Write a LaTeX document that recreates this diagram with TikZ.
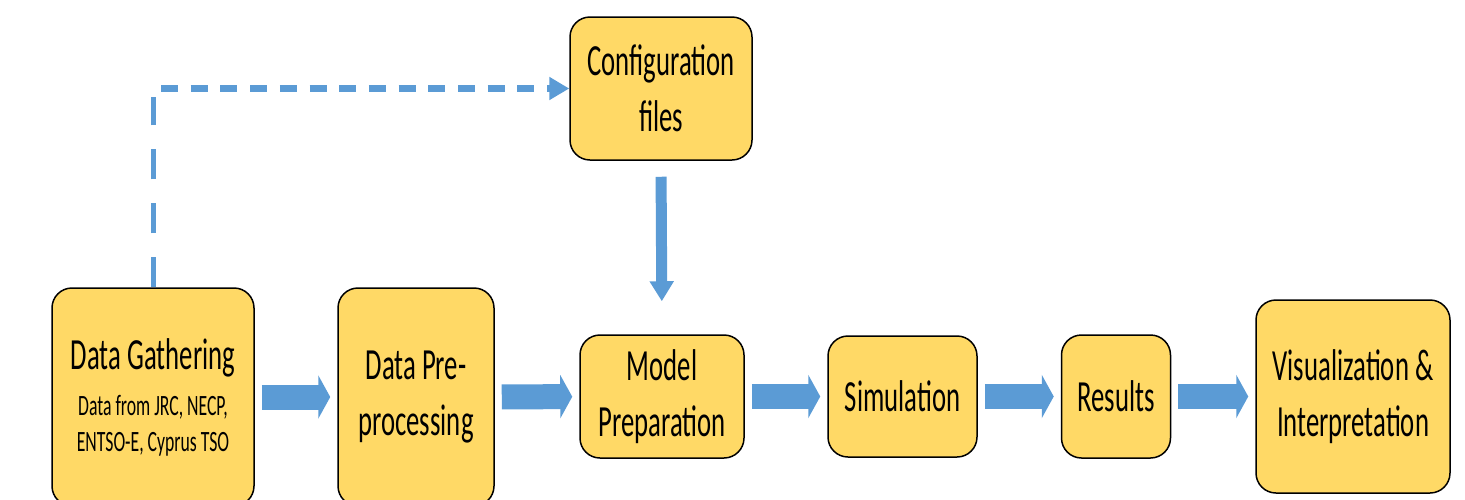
\documentclass[tikz,border=0pt]{standalone}
\usepackage{fontspec}
\setmainfont{Carlito}[FakeStretch=0.6]
\usetikzlibrary{arrows.meta}
\definecolor{boxfill}{HTML}{FFD966}
\definecolor{flowblue}{HTML}{5B9BD5}
\newcommand{\mainfont}{\fontsize{44.5}{56}\selectfont}
\newcommand{\subfont}{\fontsize{29.5}{36}\selectfont}
\begin{document}
\begin{tikzpicture}[x=1pt,y=-1pt,
  stage/.style={draw=black, line width=1.5pt, fill=boxfill, rounded corners=20pt, align=center, font=\mainfont},
  flow/.style={draw=flowblue, line width=25pt, -{Triangle[length=12pt,width=43pt]}, shorten <=7pt, shorten >=7pt},
  feed/.style={draw=flowblue, line width=11pt, -{Triangle[length=20pt,width=23pt]}, shorten <=16pt, shorten >=33pt},
  linkv/.style={draw=flowblue, line width=5pt, dash pattern=on 30pt off 24pt, shorten >=8pt},
  linkh/.style={draw=flowblue, line width=7pt, dash pattern=on 17pt off 12.7pt, shorten <=8pt, -{Triangle[length=20pt,width=22pt]}}]
\clip (0,0) rectangle (1465,499);
\node[stage, minimum width=202pt, minimum height=218pt] (gather) at (153,397) {Data Gathering\\[-10pt]{\subfont Data from JRC, NECP,}\\[-20pt]{\subfont ENTSO-E, Cyprus TSO}};
\node[stage, minimum width=156pt, minimum height=218pt] (prep) at (416,397) {Data Pre-\\processing};
\node[stage, minimum width=182pt, minimum height=143pt] (config) at (661,88.5) {Configuration\\files};
\node[stage, minimum width=164pt, minimum height=123pt] (model) at (662,396.5) {Model\\Preparation};
\node[stage, minimum width=149pt, minimum height=121pt] (sim) at (902.5,396.5) {Simulation};
\node[stage, minimum width=109pt, minimum height=123pt] (results) at (1116,396.5) {Results};
\node[stage, minimum width=194pt, minimum height=193pt] (vis) at (1353,396.5) {Visualization \&\\Interpretation};
% dashed feed of raw data into the configuration
\coordinate (bend) at (gather.north |- config.west);
\draw[linkv] (gather.north) -- (bend);
\draw[linkh] (bend) -- (config.west);
\draw[feed] (config.south) -- (model.north);
% main chain
\draw[flow] (gather) -- (prep);
\draw[flow] (prep) -- (model);
\draw[flow] (model) -- (sim);
\draw[flow] (sim) -- (results);
\draw[flow] (results) -- (vis);
\end{tikzpicture}
\end{document}
